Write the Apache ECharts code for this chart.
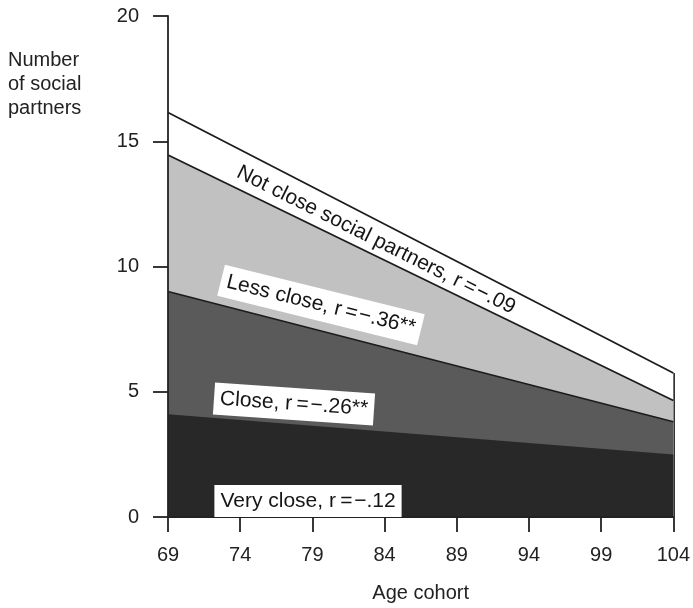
<!DOCTYPE html>
<html>
<head>
<meta charset="utf-8">
<script src="https://cdn.jsdelivr.net/npm/echarts@6/dist/echarts.min.js"></script>
<style>
  html, body { margin: 0; padding: 0; background: #fff; }
  #chart { width: 693px; height: 608px; }
</style>
</head>
<body>
<div id="chart"></div>
<script>
// Age cohorts at the two ends of the fitted lines
const ages = [69, 104];
// Number of partners in each closeness circle (inner circle first)
const veryClose = [4.1, 2.5];
const closePartners = [4.9, 1.3];
const lessClose = [5.45, 0.85];
const notClose = [1.7, 1.1];

const seriesNames = ['Very close', 'Close', 'Less close', 'Not close social partners'];
const seriesLabels = [
  'Very close, r\u2009=\u200a\u2212.12',
  'Close, r\u2009=\u200a\u2212.26**',
  'Less close, r\u2009=\u200a\u2212.36**',
  'Not close social partners, r\u2009=\u200a\u2212.09'
];
const yTicks = [0, 5, 10, 15, 20];

const FONT = '"Liberation Sans", Arial, Helvetica, sans-serif';
const chart = echarts.init(document.getElementById('chart'));

// running totals: each band sits on top of the inner circles
const layers = [veryClose, closePartners, lessClose, notClose];
const cumulative = [];
layers.forEach((arr, k) => {
  cumulative.push(arr.map((v, i) => v + (k ? cumulative[k - 1][i] : 0)));
});
const total = cumulative[cumulative.length - 1];

const fills = ['#282828', '#5a5a5a', '#c1c1c1', '#ffffff'];
const lineWidths = [0, 1.5, 1.8, 1.8];

// outer bands are painted first, inner bands are laid over them
const series = cumulative.map((cum, k) => ({
  name: seriesNames[k],
  type: 'line',
  data: ages.map((a, i) => [a, cum[i]]),
  symbol: 'none',
  silent: true,
  lineStyle: { color: '#1c1c1c', width: lineWidths[k] },
  areaStyle: { color: fills[k], opacity: 1, origin: 'start' },
  z: 10 - k
}));

// right-hand edge of the stacked block
series[3].markLine = {
  silent: true,
  symbol: 'none',
  label: { show: false },
  lineStyle: { color: '#1c1c1c', width: 1.8, type: 'solid' },
  data: [[{ coord: [ages[1], 0] }, { coord: [ages[1], total[1]] }]]
};

const boxedText = (text, x, y, rot) => ({
  type: 'text', x: x, y: y, rotation: rot, z: 100,
  style: {
    text: text, font: '21px ' + FONT, fill: '#151515',
    align: 'center', verticalAlign: 'middle',
    backgroundColor: '#fff', padding: [6, 6, 5, 6]
  }
});

chart.setOption({
  animation: false,
  backgroundColor: '#fff',
  grid: { left: 168, right: 17, top: 16, bottom: 83, containLabel: false },
  xAxis: {
    type: 'value',
    min: ages[0],
    max: ages[1],
    interval: 5,
    name: 'Age cohort',
    nameLocation: 'middle',
    nameGap: 66,
    nameTextStyle: { fontFamily: FONT, fontSize: 20, color: '#222' },
    axisLine: { show: true, lineStyle: { color: '#222', width: 1.8 } },
    axisTick: { show: true, length: 15, inside: false, lineStyle: { color: '#222', width: 1.8 } },
    axisLabel: { fontFamily: FONT, fontSize: 20, color: '#222', margin: 28 },
    splitLine: { show: false },
    z: 20
  },
  yAxis: {
    type: 'value',
    min: yTicks[0],
    max: yTicks[yTicks.length - 1],
    interval: 5,
    axisLine: { show: true, lineStyle: { color: '#222', width: 1.8 } },
    axisTick: { show: true, length: 15, lineStyle: { color: '#222', width: 1.8 } },
    axisLabel: { fontFamily: FONT, fontSize: 20, color: '#222', margin: 29 },
    splitLine: { show: false },
    z: 20
  },
  series: series,
  graphic: [
    {
      type: 'text', left: 8, top: 48, z: 100,
      style: {
        text: 'Number\nof social\npartners',
        font: '20px ' + FONT, fill: '#222', lineHeight: 24, align: 'left'
      }
    },
    {
      type: 'text', x: 376, y: 240, rotation: -0.462, z: 100,
      style: {
        text: seriesLabels[3], font: '21px ' + FONT, fill: '#151515',
        align: 'center', verticalAlign: 'middle'
      }
    },
    boxedText(seriesLabels[2], 321, 305, -0.243),
    boxedText(seriesLabels[1], 294, 404, -0.068),
    boxedText(seriesLabels[0], 308, 501, 0)
  ]
});
</script>
</body>
</html>
